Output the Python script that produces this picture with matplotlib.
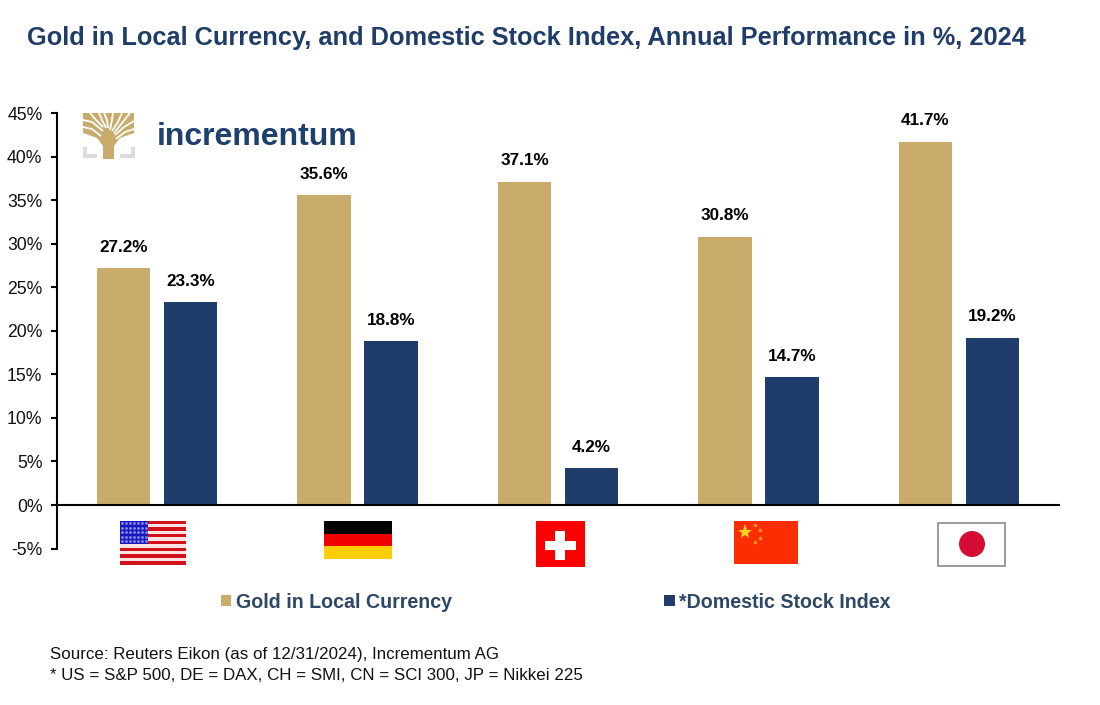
import numpy as np
import matplotlib
matplotlib.use('Agg')
import matplotlib.pyplot as plt
from matplotlib.patches import Rectangle, Circle, Polygon

countries = ['US', 'DE', 'CH', 'CN', 'JP']
gold_local = [27.2, 35.6, 37.1, 30.8, 41.7]
stock_index = [23.3, 18.8, 4.2, 14.7, 19.2]
y_ticks = [-5, 0, 5, 10, 15, 20, 25, 30, 35, 40, 45]

GOLD = '#C9AC6C'
NAVY = '#1E3D6B'

plt.rcParams['font.family'] = ['Liberation Sans', 'DejaVu Sans']

W, H = 1100, 705
fig = plt.figure(figsize=(W / 100, H / 100), dpi=100)
ax = fig.add_axes([57 / W, 1 - 548.6 / H, (1059 - 57) / W, (548.6 - 113) / H])

x = np.arange(len(countries))
bar_w = 0.267
off = 0.167
b1 = ax.bar(x - off, gold_local, bar_w, color=GOLD, label='Gold in Local Currency')
b2 = ax.bar(x + off, stock_index, bar_w, color=NAVY, label='*Domestic Stock Index')

for bars in (b1, b2):
    for r in bars:
        v = r.get_height()
        ax.annotate(f'{v:.1f}%', (r.get_x() + r.get_width() / 2, v), xytext=(0, 15),
                    textcoords='offset points', ha='center', va='center',
                    fontsize=12.3, fontweight='bold', color='black')

ax.set_xlim(-0.5, 4.5)
ax.set_ylim(-5, 45)
ax.set_yticks(y_ticks)
ax.set_yticklabels([f'{t}%' for t in y_ticks], fontsize=12.7, color='#111111')
ax.set_xticks([])
ax.tick_params(axis='y', length=4, width=1.5, pad=6.5)
ax.spines['top'].set_visible(False)
ax.spines['right'].set_visible(False)
ax.spines['left'].set_linewidth(1.5)
ax.spines['bottom'].set_linewidth(1.5)
ax.spines['bottom'].set_position(('data', 0))
ax.patch.set_alpha(0)

# overlay in pixel coordinates for the flags and logo
ov = fig.add_axes([0, 0, 1, 1], zorder=5)
ov.set_xlim(0, W)
ov.set_ylim(H, 0)
ov.axis('off')


def rect(x0, y0, x1, y1, color, **kw):
    ov.add_patch(Rectangle((x0, y0), x1 - x0, y1 - y0, facecolor=color, edgecolor='none', **kw))


# US
for i in range(13):
    y0 = 520.5 + i * 44 / 13
    rect(120, y0, 186, y0 + 44 / 13, '#D0121B' if i % 2 == 0 else '#FBE3E3')
rect(120, 520.5, 148, 544, '#1818C0')
for i in range(5):
    ov.plot(np.linspace(122, 146, 7), [523 + i * 4.6] * 7, ls='none', marker='o', ms=2, color='#8A8AE8', mew=0)

# DE
rect(324, 521, 392, 534, 'black')
rect(324, 534, 392, 546, '#F20000')
rect(324, 546, 392, 559, '#FFCE00')

# CH
rect(536, 521, 585, 567, '#FF0000')
rect(555, 531, 565, 560, 'white')
rect(545, 541, 576, 550, 'white')

# CN
rect(734, 521, 798, 564, '#FA2E00')
ov.plot([745], [532], marker='*', ms=11, color='#FFD21E', mew=0)
for px, py in [(755, 525), (760, 530), (760, 538), (755, 542)]:
    ov.plot([px], [py], marker='o', ms=2.5, color='#FF9A10', mew=0)

# JP
ov.add_patch(Rectangle((938, 523), 67, 43, facecolor='white', edgecolor='#8A8A8A', lw=1.2))
ov.add_patch(Circle((972, 544), 13, facecolor='#D40C36', edgecolor='none'))

# logo
ov.plot([84.5, 84.5, 97], [147, 156, 156], color='#DCDCE0', lw=3, solid_capstyle='butt', solid_joinstyle='miter')
ov.plot([132.5, 132.5, 120], [147, 156, 156], color='#DCDCE0', lw=3, solid_capstyle='butt', solid_joinstyle='miter')
ov.add_patch(Polygon([(83, 113), (134, 113), (134, 133), (120, 138), (114, 146), (114, 159), (103, 159),
                      (103, 146), (97, 138), (83, 133)], facecolor=GOLD, edgecolor='none'))
gaps = [
    [(83, 120), (92, 122), (103, 131)],
    [(83, 127), (92, 129), (101, 136)],
    [(90, 113), (96, 120), (103, 127)],
    [(99, 113), (102, 120), (106, 128)],
    [(104, 113), (107, 120), (108, 128)],
    [(113, 113), (112, 120), (110, 130)],
    [(122, 113), (118, 122), (112, 131)],
    [(130, 113), (122, 123), (114, 133)],
    [(134, 121), (124, 127), (115, 135)],
    [(134, 129), (125, 132), (116, 139)],
]
for g in gaps:
    gx, gy = zip(*g)
    ov.plot(gx, gy, color='white', lw=1.3, solid_capstyle='butt', solid_joinstyle='round')
ov.text(157, 137, 'incrementum', fontsize=23, fontweight='bold', color='#1F3F6E', ha='left', va='center')

# texts
fig.text(27 / W, 1 - 38 / H, 'Gold in Local Currency, and Domestic Stock Index, Annual Performance in %, 2024',
         fontsize=18.3, fontweight='bold', color='#1F3D68', ha='left', va='center')
fig.text(50 / W, 1 - 654 / H, 'Source: Reuters Eikon (as of 12/31/2024), Incrementum AG',
         fontsize=12.2, color='#111111', ha='left', va='center')
fig.text(50 / W, 1 - 675 / H, '* US = S&P 500, DE = DAX, CH = SMI, CN = SCI 300, JP = Nikkei 225',
         fontsize=12.2, color='#111111', ha='left', va='center')

leg = fig.legend(handles=[b1, b2], loc='center left', bbox_to_anchor=(205 / W, 1 - 602 / H),
                 ncol=2, frameon=False, columnspacing=10.8, handlelength=0.55,
                 handleheight=0.55, handletextpad=0.25, borderpad=0.3,
                 prop={'weight': 'bold', 'size': 14.1})
for t in leg.get_texts():
    t.set_color('#2E4766')

fig.savefig('out.png', dpi=100)
